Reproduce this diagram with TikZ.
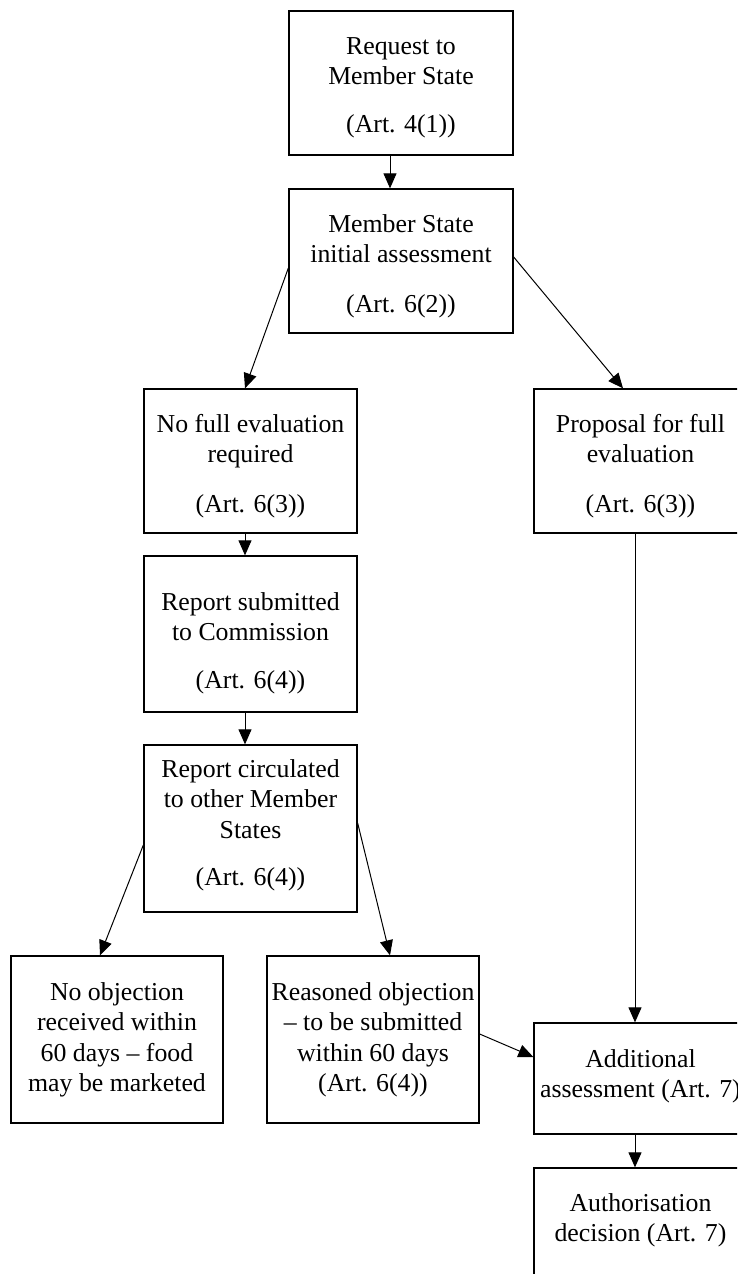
\documentclass[tikz,border=0pt]{standalone}
\usepackage{fontspec}
\setmainfont{Liberation Serif}
\usetikzlibrary{arrows.meta}
\newcommand{\boxtext}[1]{\begin{tabular}[t]{@{}c@{}}#1\end{tabular}}
\tikzset{
  box/.style={draw, line width=1.3pt, inner sep=0pt, minimum width=213pt},
  txt/.style={anchor=base, inner sep=0pt, font=\fontsize{25.8}{30.5}\selectfont},
  arr/.style={-{Triangle[length=15pt,width=13pt]}, line width=1pt}
}
\begin{document}
\begin{tikzpicture}[x=1pt,y=-1pt]
\useasboundingbox (0,0) rectangle (737,1274);
\clip (0,0) rectangle (737,1274);
% boxes
\node[box, minimum width=224pt, minimum height=144pt] (b1) at (401,83) {};
\node[box, minimum width=224pt, minimum height=144pt] (b2) at (401,261) {};
\node[box, minimum height=144pt] (b3) at (250.5,461) {};
\node[box, minimum height=156pt] (b4) at (250.5,634) {};
\node[box, minimum height=167pt] (b5) at (250.5,828.5) {};
\node[box, minimum width=212pt, minimum height=167pt] (b6) at (117,1039.5) {};
\node[box, minimum width=212pt, minimum height=167pt] (b7) at (373,1039.5) {};
\node[box, minimum height=144pt] (b8) at (640.5,461) {};
\node[box, minimum height=111pt] (b9) at (640.5,1078.5) {};
\node[box, minimum height=132pt] (b10) at (640.5,1234) {};
% texts
\node[txt] (t1) at (401,54) {\boxtext{Request to\\Member State\\[17.5pt](Art. 4(1))}};
\node[txt] (t2) at (401,232) {\boxtext{Member State\\initial assessment\\[19.5pt](Art. 6(2))}};
\node[txt] (t3) at (250.5,432) {\boxtext{No full evaluation\\required\\[19.5pt](Art. 6(3))}};
\node[txt] (t4) at (250.5,610) {\boxtext{Report submitted\\to Commission\\[17.5pt](Art. 6(4))}};
\node[txt] (t5) at (250.5,777) {\boxtext{Report circulated\\to other Member\\States\\[16.5pt](Art. 6(4))}};
\node[txt] (t6) at (117,1000) {\boxtext{No objection\\received within\\60 days – food\\may be marketed}};
\node[txt] (t7) at (373,1000) {\boxtext{Reasoned objection\\– to be submitted\\within 60 days\\(Art. 6(4))}};
\node[txt] (t8) at (640.5,432) {\boxtext{Proposal for full\\evaluation\\[19.5pt](Art. 6(3))}};
\node[txt] (t9) at (640.5,1067) {\boxtext{Additional\\assessment (Art. 7)}};
\node[txt] (t10) at (640.5,1211) {\boxtext{Authorisation\\decision (Art. 7)}};
% connectors
\draw[arr] ([xshift=-11pt]b1.south) -- ([xshift=-11pt]b2.north);
\draw[arr] ([yshift=-7pt]b2.west) -- ([xshift=-5.5pt]b3.north);
\draw[arr] ([yshift=4pt]b2.east) -- ([xshift=-17.5pt]b8.north);
\draw[arr] ([xshift=-5.5pt]b3.south) -- ([xshift=-5.5pt]b4.north);
\draw[arr] ([xshift=-5.5pt]b4.south) -- ([xshift=-5.5pt]b5.north);
\draw[arr] ([yshift=-16.5pt]b5.west) -- ([xshift=-17pt]b6.north);
\draw[arr] ([yshift=5.5pt]b5.east) -- ([xshift=17pt]b7.north);
\draw[arr] ([xshift=-5.5pt]b8.south) -- ([xshift=-5.5pt]b9.north);
\draw[arr] ([yshift=5.5pt]b7.east) -- ([yshift=21.5pt]b9.west);
\draw[arr] ([xshift=-5.5pt]b9.south) -- ([xshift=-5.5pt]b10.north);
\end{tikzpicture}
\end{document}
